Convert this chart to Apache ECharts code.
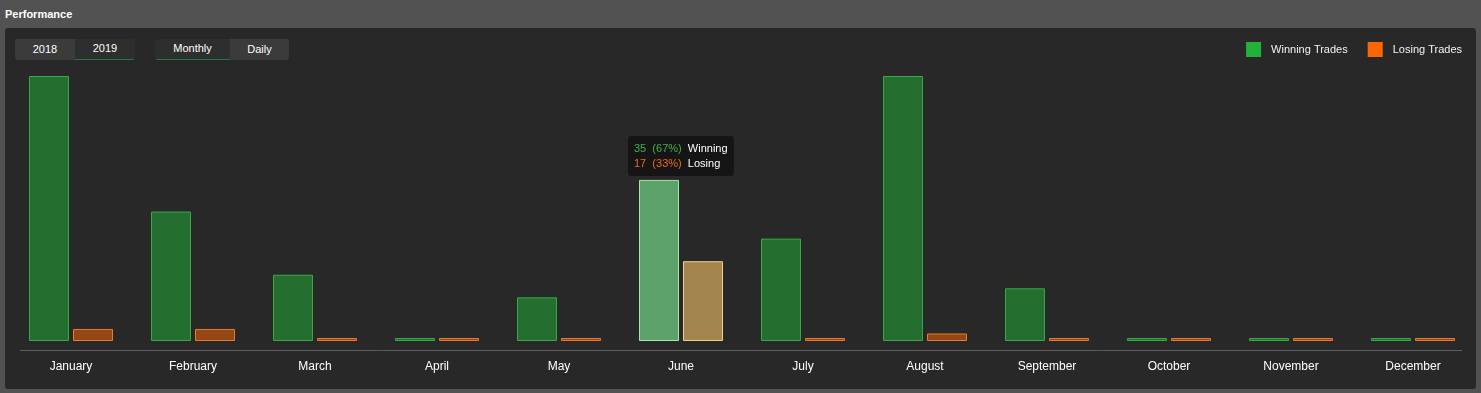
<!DOCTYPE html>
<html>
<head>
<meta charset="utf-8">
<script src="https://cdn.jsdelivr.net/npm/echarts@6/dist/echarts.min.js"></script>
<style>
  html, body { margin:0; padding:0; width:1481px; height:393px; overflow:hidden; background:#525252; font-family:"Liberation Sans", Arial, sans-serif; }
  #title { position:absolute; left:5px; top:7px; color:#fff; font-weight:bold; font-size:11px; line-height:14px; }
  #panel { position:absolute; left:5px; top:28px; width:1471px; height:361px; background:#282828; border-radius:3px; }
  .grp { position:absolute; top:39px; height:21px; border-radius:3px; overflow:hidden; display:flex; }
  .btn { height:21px; box-sizing:border-box; color:#fff; font-size:11px; line-height:20px; text-align:center; background:#3b3b3b; }
  .btn.on { background:#2e2e2e; border-bottom:1px solid #1f7a3c; line-height:18px; }
  #chart { position:absolute; left:0; top:0; width:1481px; height:393px; }
</style>
</head>
<body>
<div id="title">Performance</div>
<div id="panel"></div>
<div class="grp" style="left:15px;width:120px;">
  <div class="btn" style="width:60px;">2018</div>
  <div class="btn on" style="width:60px;">2019</div>
</div>
<div class="grp" style="left:155px;width:134px;">
  <div class="btn on" style="width:75px;">Monthly</div>
  <div class="btn" style="width:59px;">Daily</div>
</div>
<div id="chart"></div>
<script>
const months = ['January','February','March','April','May','June','July','August','September','October','November','December'];
const winning = [58, 28, 14, 0, 9, 35, 22, 58, 11, 0, 0, 0];
const losing  = [2, 2, 0, 0, 0, 17, 0, 1, 0, 0, 0, 0];
const seriesNames = ['Winning Trades', 'Losing Trades'];
const hoverIndex = 5;

const styles = {
  win:  { fill:'rgba(31,179,55,0.5)', stroke:'#36a844', hFill:'#559461', hStroke:'#a8e6a8' },
  lose: { fill:'rgba(255,102,0,0.5)', stroke:'#e87a30', hFill:'#957a46', hStroke:'#f3d08a' }
};

const chart = echarts.init(document.getElementById('chart'), null, { renderer:'canvas' });

function makeRender(kind) {
  return function (params, api) {
    const idx = api.value(0);
    const v = api.value(1);
    const top = api.coord([idx, v]);
    const base = api.coord([idx, 0]);
    const cx = top[0];
    const left = kind === 'win' ? cx - 42 : cx + 2;
    const yb = base[1] + 3;
    const yt = top[1];
    const st = styles[kind];
    const hov = idx === hoverIndex;
    return {
      type: 'rect',
      shape: { x: left + 0.5, y: yt + 0.5, width: 39, height: Math.max(yb - yt - 1, 1) },
      style: { fill: hov ? st.hFill : st.fill, stroke: hov ? st.hStroke : st.stroke, lineWidth: 1 }
    };
  };
}

const option = {
  animation: false,
  backgroundColor: 'transparent',
  textStyle: { fontFamily: '"Liberation Sans", Arial, sans-serif' },
  grid: { left: 10, right: 7, top: 76, bottom: 393 - 338 },
  legend: {
    right: 14, top: 37,
    icon: 'rect', itemWidth: 15, itemHeight: 15, itemGap: 20,
    textStyle: { color: '#f2f2f2', fontSize: 11, padding: [0, 0, 0, 5] },
    data: [
      { name: seriesNames[0], itemStyle: { color: '#21b23a', borderWidth: 0 } },
      { name: seriesNames[1], itemStyle: { color: '#ff6600', borderWidth: 0 } }
    ]
  },
  tooltip: {
    trigger: 'axis',
    axisPointer: { type: 'none' },
    alwaysShowContent: true,
    transitionDuration: 0,
    backgroundColor: 'rgba(20,20,20,0.92)',
    borderWidth: 0,
    padding: [5, 6],
    extraCssText: 'border-radius:3px;box-shadow:none;line-height:15px;',
    textStyle: { color: '#fff', fontSize: 11, fontFamily: '"Liberation Sans", Arial, sans-serif' },
    position: function (point, params, dom, rect, size) {
      const i = params[0].dataIndex;
      const p = chart.convertToPixel({ gridIndex: 0 }, [i, winning[i]]);
      const q = chart.convertToPixel({ gridIndex: 0 }, [i, losing[i]]);
      const topY = Math.min(p[1], q[1]);
      return [p[0] - size.contentSize[0] / 2, topY - size.contentSize[1] - 4];
    },
    formatter: function (params) {
      const i = params[0].dataIndex;
      const w = winning[i], l = losing[i], t = w + l;
      const wp = t ? Math.round(w / t * 100) : 0;
      const lp = t ? Math.round(l / t * 100) : 0;
      return '<div style="line-height:15px">' +
        '<span style="color:#3fb24a">' + w + '&nbsp;&nbsp;(' + wp + '%)</span>&nbsp;&nbsp;<span style="color:#fff">Winning</span><br>' +
        '<span style="color:#f2661c">' + l + '&nbsp;&nbsp;(' + lp + '%)</span>&nbsp;&nbsp;<span style="color:#fff">Losing</span></div>';
    }
  },
  xAxis: {
    type: 'category',
    data: months,
    axisLine: { show: false },
    axisTick: { show: false },
    axisLabel: { color: '#ffffff', fontSize: 12, margin: 23 }
  },
  yAxis: {
    type: 'value', min: 0, max: 58, show: false, splitLine: { show: false }
  },
  graphic: [{
    type: 'line', silent: true,
    shape: { x1: 20, y1: 350.5, x2: 1462, y2: 350.5 },
    style: { stroke: '#5c5c5c', lineWidth: 1 }
  }],
  series: [
    {
      name: seriesNames[0], type: 'custom', renderItem: makeRender('win'),
      itemStyle: { color: '#21b23a' }, emphasis: { disabled: true },
      encode: { x: 0, y: 1 },
      data: winning.map((v, i) => [i, v])
    },
    {
      name: seriesNames[1], type: 'custom', renderItem: makeRender('lose'),
      itemStyle: { color: '#ff6600' }, emphasis: { disabled: true },
      encode: { x: 0, y: 1 },
      data: losing.map((v, i) => [i, v])
    }
  ]
};
chart.setOption(option);
const pc = chart.convertToPixel({ gridIndex: 0 }, [hoverIndex, winning[hoverIndex] / 2]);
chart.dispatchAction({ type: 'showTip', x: pc[0], y: pc[1] });
</script>
</body>
</html>
